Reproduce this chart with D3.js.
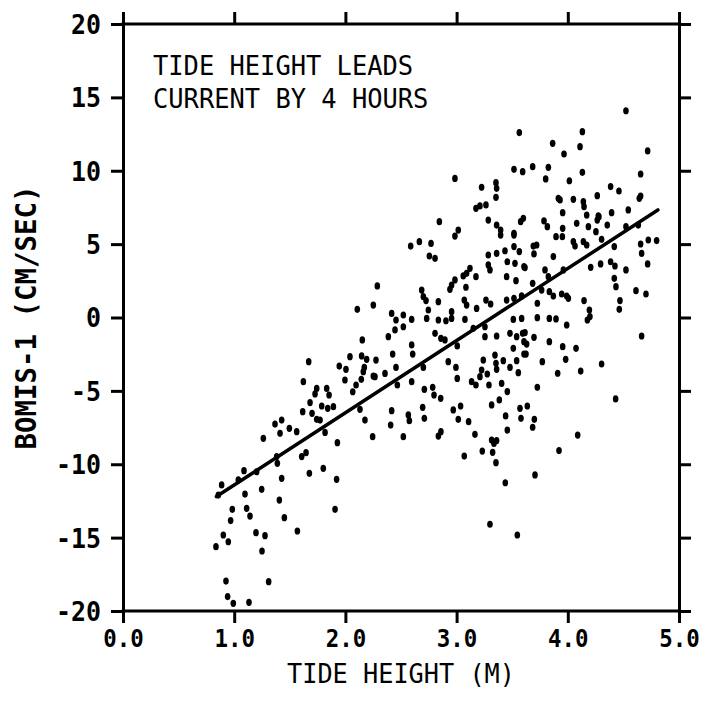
<!DOCTYPE html>
<html><head><meta charset="utf-8">
<script src="https://cdn.jsdelivr.net/npm/d3@7/dist/d3.min.js"></script>
<style>html,body{margin:0;padding:0;background:#fff;}</style>
</head><body>
<svg id="chart" width="705" height="701"></svg>
<script>
// ---- data ----
const xTicks = [0, 1, 2, 3, 4, 5];
const xTickLabels = ["0.0", "1.0", "2.0", "3.0", "4.0", "5.0"];
const yTicks = [-20, -15, -10, -5, 0, 5, 10, 15, 20];
const yTickLabels = ["-20", "-15", "-10", "-5", "0", "5", "10", "15", "20"];
const xTitle = "TIDE HEIGHT (M)";
const yTitle = "BOMIS-1 (CM/SEC)";
const note = ["TIDE HEIGHT LEADS", "CURRENT BY 4 HOURS"];
const fitX = [0.84, 4.81];
const fitY = [-12.2, 7.33];

const tideHeight = [
 1.787,1.841,1.892,1.616,1.700,1.427,1.367,1.496,1.412,1.562,1.742,1.772,1.262,1.817,1.928,2.131,2.176,2.245,1.382,1.388,1.607,1.646,1.088,1.202,1.037,0.887,0.857,1.676,1.801,1.921,1.427,1.097,1.247,0.983,0.968,1.112,1.142,1.406,1.451,1.907,1.568,0.902,0.947,0.836,1.196,1.277,1.250,0.926,1.310,0.941,0.992,1.133,
 2.251,2.107,2.152,2.041,2.146,2.191,1.945,2.005,2.170,2.161,2.251,1.670,1.622,1.742,1.727,1.832,1.853,1.996,2.096,2.066,2.143,1.682,
 2.985,3.396,3.516,2.665,2.587,2.770,2.755,2.806,3.285,3.360,3.435,3.516,3.564,3.456,3.525,3.606,3.285,3.300,3.120,3.090,3.060,3.174,2.287,3.450,3.534,2.985,2.955,2.940,3.084,2.686,2.701,2.725,2.836,3.069,3.090,3.180,3.264,3.306,3.450,3.516,3.585,2.746,2.416,2.521,2.455,2.596,2.955,2.955,2.904,2.836,3.075,2.731,2.521,2.446,2.386,2.806,2.859,2.895,3.150,3.255,3.510,3.585,3.255,3.360,2.596,2.605,3.006,3.480,3.540,3.594,3.606,2.275,2.425,3.510,3.606,3.345,3.240,3.354,3.420,3.540,2.455,2.356,2.266,2.701,2.925,2.994,3.480,3.555,3.225,3.276,3.360,2.596,3.006,3.135,3.210,3.405,
 2.467,2.710,2.785,2.797,2.857,3.174,3.291,3.456,3.384,3.315,2.416,2.407,2.566,2.575,2.695,2.710,2.970,3.036,3.015,3.108,3.570,3.579,3.441,3.456,2.521,2.836,2.859,3.165,3.315,3.360,3.336,3.231,3.324,3.069,3.354,3.438,3.300,3.546,
 3.630,3.696,3.624,3.834,3.954,4.074,4.664,3.771,3.981,3.909,4.116,4.304,3.726,4.430,3.636,3.699,3.684,4.089,3.921,3.705,
 4.523,4.131,4.110,3.864,3.966,4.718,3.684,3.825,3.801,4.131,4.014,4.655,4.385,4.460,4.265,4.655,4.643,3.915,3.930,4.050,4.140,4.146,3.954,4.170,4.274,4.394,4.544,3.786,3.816,3.954,3.951,4.080,4.185,4.265,4.280,4.355,4.253,3.894,4.050,4.065,4.140,4.170,4.304,4.418,4.523,4.634,4.655,4.724,4.799,4.664,3.690,3.720,3.696,3.870,3.615,3.795,3.825,3.960,4.206,4.295,4.385,4.424,4.523,4.418,4.433,4.718,3.684,3.765,3.834,3.870,3.945,3.990,4.005,3.726,4.613,4.703,4.146,4.194,4.176,4.199,4.469,4.463,3.726,3.834,3.894,3.990,3.615,
 3.564,2.985,3.516,3.594,3.225,3.354,3.360,3.354,3.174,3.210,3.264,2.845,3.285,3.360,3.396,3.600,3.576,3.015,3.516
];
const currentSpeed = [
 -6.03,-6.19,-6.08,-6.42,-6.53,-6.99,-7.26,-7.55,-7.89,-7.78,-6.94,-6.99,-8.23,-7.83,-8.53,-6.26,-6.99,-8.12,-9.48,-9.94,-9.48,-9.21,-10.44,-10.51,-11.07,-11.41,-12.10,-10.62,-10.28,-11.03,-10.96,-12.03,-11.71,-13.07,-13.84,-13.00,-13.53,-12.44,-13.64,-13.07,-14.55,-14.82,-15.28,-15.62,-14.66,-14.87,-15.91,-17.96,-18.00,-19.02,-19.48,-19.41,
 0.85,0.56,-1.53,-2.67,-2.62,-2.85,-3.31,-3.53,-3.40,-3.69,-3.99,-3.01,-4.37,-4.83,-5.21,-4.83,-5.28,-4.26,-4.60,-5.06,-4.21,-5.80,
 5.55,5.62,5.62,5.17,4.87,5.05,4.19,4.03,4.26,4.37,4.55,4.83,4.49,3.80,3.69,3.46,3.58,3.24,3.35,3.01,2.83,2.78,2.15,2.78,2.51,2.56,2.21,1.92,2.06,1.87,1.42,1.15,1.08,1.19,0.85,0.62,1.19,0.92,1.19,1.31,1.47,0.51,0.28,0.17,-0.17,-0.13,0.40,-0.06,-0.22,-0.17,-0.13,-0.06,-0.63,-0.85,-1.31,-1.08,-1.42,-1.53,-0.74,-0.63,-0.13,-0.06,-1.31,-1.26,-1.87,-2.49,-1.94,-1.08,-1.31,-1.08,-1.65,-2.90,-2.49,-2.10,-2.49,-2.56,-2.90,-3.12,-2.94,-2.94,-3.40,-3.81,-4.03,-3.40,-3.01,-3.40,-3.40,-3.76,-3.58,-3.85,-3.53,-4.37,-4.15,-4.37,-4.03,-4.49,
 -4.60,-4.90,-4.76,-5.28,-5.51,-4.60,-4.60,-5.05,-5.62,-5.96,-6.35,-7.33,-6.64,-7.03,-6.12,-6.87,-6.30,-6.03,-6.94,-7.10,-6.19,-6.87,-6.71,-7.67,-8.12,-8.08,-7.78,-7.96,-8.35,-8.39,-8.58,-9.10,-9.19,-9.44,-9.89,-11.26,-14.09,-14.82,
 -1.81,-1.35,-2.49,-1.65,-1.99,-2.10,-1.26,-3.01,-2.85,-3.80,-3.65,-3.17,-4.76,-5.55,-6.03,-6.94,-7.48,-8.01,-9.07,-10.73,
 14.09,12.66,11.64,11.87,11.14,11.35,10.28,10.23,9.44,9.89,9.32,9.78,8.92,8.62,8.30,8.28,8.12,8.12,8.01,8.05,7.89,7.55,7.14,6.98,6.92,7.14,7.33,6.58,6.19,6.08,5.51,6.42,6.19,6.64,6.87,6.30,5.85,5.51,5.17,4.87,5.17,4.94,5.33,4.83,6.19,6.30,5.01,5.28,5.24,4.37,4.87,4.94,4.33,4.15,3.40,3.24,2.78,3.24,3.42,3.65,3.80,3.51,3.24,2.67,2.10,3.65,2.33,1.87,1.76,1.46,1.60,1.46,1.31,0.97,1.83,1.60,1.15,0.51,-0.17,0.06,1.15,0.56,-0.01,-0.06,-0.10,-0.51,-1.03,
 12.60,9.48,10.10,9.94,8.87,9.19,8.80,8.19,7.44,7.60,7.67,6.53,6.64,6.30,5.96,6.76,6.53,5.96,5.74
];

// ---- chart ----
const W = 705, H = 701;
const m = {left: 123, right: 705 - 679, top: 24, bottom: 701 - 611};
const svg = d3.select("#chart");
svg.append("rect").attr("width", W).attr("height", H).attr("fill", "#fff");

const x = d3.scaleLinear().domain([0, 5]).range([m.left, W - m.right]);
const y = d3.scaleLinear().domain([-20, 20]).range([H - m.bottom, m.top]);

const FONT = "'DejaVu Sans Mono', 'Liberation Mono', monospace";
const ink = "#000";

function fitText(sel, pitch) {
  sel.each(function() {
    const t = d3.select(this);
    const n = t.text().length;
    t.attr("textLength", n * pitch).attr("lengthAdjust", "spacingAndGlyphs");
  });
}

const tickLen = 12;
const gB = svg.append("g").attr("transform", `translate(0,${y(-20)})`)
  .call(d3.axisBottom(x).tickValues(xTicks).tickSize(tickLen).tickSizeOuter(0)
    .tickPadding(4).tickFormat((d, i) => xTickLabels[i]));
const gT = svg.append("g").attr("transform", `translate(0,${y(20)})`)
  .call(d3.axisTop(x).tickValues(xTicks).tickSize(tickLen).tickSizeOuter(0).tickFormat(""));
const gL = svg.append("g").attr("transform", `translate(${x(0)},0)`)
  .call(d3.axisLeft(y).tickValues(yTicks).tickSize(tickLen).tickSizeOuter(0)
    .tickPadding(10).tickFormat((d, i) => yTickLabels[i]));
const gR = svg.append("g").attr("transform", `translate(${x(5)},0)`)
  .call(d3.axisRight(y).tickValues(yTicks).tickSize(tickLen).tickSizeOuter(0).tickFormat(""));

[gB, gT, gL, gR].forEach(g => {
  g.selectAll("path.domain").attr("stroke", ink).attr("stroke-width", 3);
  g.selectAll(".tick line").attr("stroke", ink).attr("stroke-width", 3);
});
gB.select("path.domain").attr("d", `M${x(0) - 1.5},0H${x(5) + 1.5}`);
gT.select("path.domain").attr("d", `M${x(0) - 1.5},0H${x(5) + 1.5}`);

gB.selectAll(".tick text")
  .attr("font-family", FONT).attr("font-size", 25).attr("font-weight", "bold")
  .attr("fill", ink).attr("dy", "0.78em").call(fitText, 13.5);
gL.selectAll(".tick text")
  .attr("font-family", FONT).attr("font-size", 26).attr("font-weight", "bold")
  .attr("fill", ink).attr("dy", "0.36em").call(fitText, 15);

// axis titles
svg.append("text").attr("x", (x(0) + x(5)) / 2).attr("y", 683)
  .attr("text-anchor", "middle").attr("font-family", FONT).attr("font-size", 26)
  .attr("fill", ink).text(xTitle).call(fitText, 15.2);
svg.append("text").attr("transform", `translate(36,${(y(-20) + y(20)) / 2}) rotate(-90)`)
  .attr("text-anchor", "middle").attr("font-family", FONT).attr("font-size", 28)
  .attr("font-weight", "bold")
  .attr("fill", ink).text(yTitle).call(fitText, 16.5);

// note
note.forEach((s, i) => {
  svg.append("text").attr("x", 153).attr("y", 75 + i * 32.5)
    .attr("font-family", FONT).attr("font-size", 27).attr("fill", ink)
    .text(s).call(fitText, 15.3);
});

// regression line
svg.append("line")
  .attr("x1", x(fitX[0])).attr("y1", y(fitY[0]))
  .attr("x2", x(fitX[1])).attr("y2", y(fitY[1]))
  .attr("stroke", ink).attr("stroke-width", 3.5).attr("stroke-linecap", "round");

// points
const pts = tideHeight.map((t, i) => ({t, c: currentSpeed[i]}));
svg.append("g").selectAll("ellipse").data(pts).join("ellipse")
  .attr("cx", d => x(d.t)).attr("cy", d => y(d.c))
  .attr("rx", 2.8).attr("ry", 3.6).attr("fill", ink);
</script>
</body></html>
